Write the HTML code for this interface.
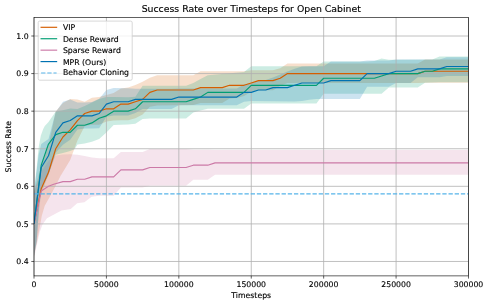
<!DOCTYPE html>
<html><head><meta charset="utf-8"><title>Success Rate over Timesteps for Open Cabinet</title>
<style>
html,body{margin:0;padding:0;background:#fff;}
svg{display:block}
text{font-family:"DejaVu Sans","Liberation Sans",sans-serif;fill:#000;stroke:#000;stroke-width:0.14px;}
</style></head><body>
<svg width="489" height="305" viewBox="0 0 489 305">
<rect width="489" height="305" fill="#fff"/>
<defs><clipPath id="ax"><rect x="34.0" y="17.5" width="434.5" height="258.4"/></clipPath></defs>

<g clip-path="url(#ax)">
<path d="M34.00,192.00 L37.60,179.00 L41.24,166.00 L48.48,146.00 L55.73,111.50 L62.97,103.00 L70.21,99.10 L77.45,99.50 L84.69,101.70 L91.93,97.80 L99.17,97.10 L106.42,95.00 L113.66,93.00 L120.90,88.50 L128.14,87.60 L135.38,85.00 L142.62,81.70 L149.87,77.80 L157.11,75.20 L193.32,75.20 L200.56,71.20 L244.01,71.20 L251.25,70.30 L258.49,70.30 L272.98,70.30 L280.22,68.30 L287.46,63.50 L417.81,63.50 L425.05,59.60 L468.50,59.60 L468.50,82.70 L425.05,82.70 L417.81,82.90 L287.46,82.90 L280.22,86.00 L272.98,90.30 L258.49,90.30 L251.25,91.80 L244.01,96.00 L236.77,98.00 L229.53,98.50 L222.28,103.10 L200.56,103.10 L193.32,105.00 L157.11,105.40 L149.87,106.80 L142.62,114.50 L135.38,118.20 L128.14,120.30 L120.90,120.30 L113.66,120.50 L106.42,121.50 L99.17,124.70 L91.93,124.80 L84.69,126.00 L77.45,140.50 L70.20,160.00 L62.95,172.00 L60.50,176.00 L54.50,188.00 L50.20,196.00 L44.75,205.80 L41.80,215.70 L40.00,226.00 L36.90,242.00 L34.00,256.50Z" fill="#D55E00" fill-opacity="0.2" stroke="none"/>
<path d="M34.00,192.00 L36.85,166.00 L37.80,155.80 L38.85,146.00 L40.80,135.80 L43.10,129.30 L44.75,126.00 L48.50,122.00 L55.73,111.50 L62.97,110.30 L70.21,108.50 L77.45,108.90 L84.69,106.00 L91.93,102.50 L99.17,99.00 L106.42,97.10 L113.66,97.10 L128.14,97.30 L135.38,96.80 L142.62,85.70 L186.07,85.70 L193.32,83.00 L200.56,79.00 L207.80,75.30 L244.01,72.00 L251.25,66.30 L316.43,66.30 L323.67,61.60 L367.12,61.60 L374.36,61.00 L381.60,58.40 L388.84,59.80 L432.29,59.50 L439.53,56.40 L468.50,56.40 L468.50,82.20 L439.53,82.20 L432.29,82.50 L425.05,82.80 L417.81,87.50 L388.84,87.50 L381.60,93.70 L323.67,93.70 L316.43,103.60 L251.25,103.60 L244.01,108.80 L207.80,108.80 L200.56,110.50 L193.32,112.50 L186.07,118.50 L149.87,118.50 L142.62,119.10 L135.38,123.70 L128.14,124.40 L113.66,124.90 L106.42,132.50 L99.17,139.00 L91.93,141.80 L84.69,143.60 L77.45,144.60 L74.55,149.30 L70.21,151.00 L62.97,153.00 L55.73,154.70 L48.48,174.50 L41.24,194.00 L39.60,205.00 L37.90,224.00 L36.60,242.00 L34.00,256.00Z" fill="#009E73" fill-opacity="0.2" stroke="none"/>
<path d="M34.00,192.00 L41.24,172.00 L48.48,161.00 L55.73,155.50 L62.97,154.50 L70.21,154.30 L77.45,154.80 L84.69,156.00 L91.93,157.50 L99.17,158.20 L113.66,158.20 L120.90,152.00 L142.62,152.00 L149.87,149.00 L186.07,149.00 L193.32,149.70 L207.80,149.70 L215.04,149.90 L468.50,149.90 L468.50,174.80 L215.04,174.80 L207.80,179.85 L193.32,179.85 L186.07,185.70 L149.87,185.70 L142.62,187.40 L120.90,187.40 L113.66,195.80 L99.17,195.80 L91.60,196.70 L84.40,202.30 L77.20,203.20 L70.70,209.10 L61.50,210.40 L47.00,218.30 L42.50,224.60 L39.80,231.80 L37.50,242.00 L34.00,258.00Z" fill="#CC79A7" fill-opacity="0.2" stroke="none"/>
<path d="M34.00,192.00 L37.00,168.00 L38.60,155.00 L41.24,144.00 L48.48,139.00 L55.73,112.00 L62.97,101.70 L70.21,99.50 L77.45,102.50 L84.69,102.50 L91.93,102.00 L99.17,98.80 L106.42,89.90 L113.66,87.90 L128.14,88.30 L135.38,88.80 L171.59,88.80 L178.83,88.40 L236.77,88.40 L244.01,84.50 L251.25,83.00 L258.49,81.00 L265.73,80.00 L272.98,77.50 L280.22,74.50 L287.46,71.50 L294.70,68.80 L301.94,66.40 L309.18,66.20 L323.67,66.20 L330.91,61.40 L359.88,61.40 L367.12,60.40 L388.84,60.40 L396.08,59.60 L439.53,59.60 L446.77,57.30 L468.50,57.30 L468.50,76.00 L446.77,76.00 L439.53,77.30 L417.81,77.30 L410.57,83.00 L396.08,83.00 L388.84,86.75 L367.12,86.75 L359.88,99.00 L316.43,99.00 L309.18,99.80 L301.94,100.90 L294.70,101.50 L251.25,100.90 L244.01,101.80 L236.77,105.30 L178.83,105.30 L171.59,109.00 L142.62,109.00 L135.38,113.00 L128.14,115.50 L120.90,115.50 L113.66,115.50 L106.42,116.80 L99.17,128.20 L91.93,128.50 L84.69,128.50 L77.45,129.50 L70.21,139.80 L62.97,144.70 L55.73,152.50 L48.48,175.00 L41.24,189.00 L39.50,202.00 L37.90,224.00 L36.60,242.00 L34.00,256.00Z" fill="#0072B2" fill-opacity="0.2" stroke="none"/>
</g>
<g stroke="#b0b0b0" stroke-width="0.8" stroke-opacity="1" fill="none">
<line x1="34.00" y1="17.5" x2="34.00" y2="275.9"/>
<line x1="106.42" y1="17.5" x2="106.42" y2="275.9"/>
<line x1="178.83" y1="17.5" x2="178.83" y2="275.9"/>
<line x1="251.25" y1="17.5" x2="251.25" y2="275.9"/>
<line x1="323.67" y1="17.5" x2="323.67" y2="275.9"/>
<line x1="396.08" y1="17.5" x2="396.08" y2="275.9"/>
<line x1="468.50" y1="17.5" x2="468.50" y2="275.9"/>
<line x1="34.0" y1="261.48" x2="468.5" y2="261.48"/>
<line x1="34.0" y1="223.90" x2="468.5" y2="223.90"/>
<line x1="34.0" y1="186.32" x2="468.5" y2="186.32"/>
<line x1="34.0" y1="148.74" x2="468.5" y2="148.74"/>
<line x1="34.0" y1="111.16" x2="468.5" y2="111.16"/>
<line x1="34.0" y1="73.58" x2="468.5" y2="73.58"/>
<line x1="34.0" y1="36.00" x2="468.5" y2="36.00"/>
</g>
<g clip-path="url(#ax)">
<path d="M34.00,223.90 L41.24,188.67 L48.48,172.23 L55.73,148.74 L62.97,137.00 L70.21,129.95 L77.45,120.55 L84.69,113.51 L91.93,111.16 L99.17,111.16 L106.42,108.81 L113.66,108.81 L120.90,104.11 L128.14,104.11 L135.38,101.76 L142.62,99.42 L149.87,92.37 L157.11,90.02 L193.32,90.02 L200.56,87.67 L222.28,87.67 L229.53,85.32 L236.77,85.32 L244.01,85.32 L251.25,82.97 L258.49,80.63 L272.98,80.63 L280.22,78.28 L287.46,73.58 L417.81,73.58 L425.05,71.23 L432.29,71.23 L439.53,71.23 L468.50,71.23" fill="none" stroke="#D55E00" stroke-width="1.16" stroke-linejoin="round"/>
<path d="M34.00,223.90 L41.24,165.18 L48.48,144.04 L55.73,134.65 L62.97,132.30 L70.21,132.30 L77.45,125.25 L84.69,125.25 L91.93,122.90 L99.17,118.21 L106.42,115.86 L113.66,111.16 L128.14,111.16 L135.38,108.81 L142.62,101.76 L186.07,101.76 L193.32,99.42 L200.56,97.07 L207.80,92.37 L236.77,92.37 L244.01,92.37 L251.25,85.32 L316.43,85.32 L323.67,78.28 L374.36,78.28 L381.60,75.93 L388.84,73.58 L417.81,73.58 L425.05,71.23 L432.29,71.23 L439.53,68.88 L468.50,68.88" fill="none" stroke="#009E73" stroke-width="1.16" stroke-linejoin="round"/>
<path d="M34.00,223.90 L41.24,191.02 L43.12,189.80 L45.80,188.00 L48.48,186.32 L53.70,184.30 L62.97,181.62 L70.21,181.62 L77.45,179.27 L84.69,179.27 L91.93,176.92 L113.66,176.92 L120.90,169.88 L142.62,169.88 L149.87,167.53 L186.07,167.53 L193.32,165.18 L207.80,165.18 L215.04,162.83 L468.50,162.83" fill="none" stroke="#CC79A7" stroke-width="1.16" stroke-linejoin="round"/>
<path d="M34.00,223.90 L41.24,167.53 L48.48,155.79 L55.73,132.30 L62.97,122.90 L70.21,120.55 L77.45,115.86 L84.69,115.86 L91.93,115.86 L99.17,113.51 L106.42,104.11 L113.66,101.76 L128.14,101.76 L135.38,99.42 L171.59,99.42 L178.83,97.07 L236.77,97.07 L244.01,92.37 L251.25,92.37 L258.49,90.02 L265.73,90.02 L272.98,87.67 L287.46,87.67 L294.70,85.32 L301.94,82.97 L323.67,82.97 L330.91,80.63 L359.88,80.63 L367.12,73.58 L388.84,73.58 L396.08,71.23 L410.57,71.23 L417.81,68.88 L439.53,68.88 L446.77,66.53 L468.50,66.53" fill="none" stroke="#0072B2" stroke-width="1.16" stroke-linejoin="round"/>
<line x1="34.0" y1="193.84" x2="468.5" y2="193.84" stroke="#56B4E9" stroke-width="1.16" stroke-dasharray="4.316 1.866" stroke-dashoffset="-0.3"/>
</g>
<g stroke="#000" stroke-width="0.62">
<line x1="34.00" y1="275.9" x2="34.00" y2="278.59999999999997"/>
<line x1="106.42" y1="275.9" x2="106.42" y2="278.59999999999997"/>
<line x1="178.83" y1="275.9" x2="178.83" y2="278.59999999999997"/>
<line x1="251.25" y1="275.9" x2="251.25" y2="278.59999999999997"/>
<line x1="323.67" y1="275.9" x2="323.67" y2="278.59999999999997"/>
<line x1="396.08" y1="275.9" x2="396.08" y2="278.59999999999997"/>
<line x1="468.50" y1="275.9" x2="468.50" y2="278.59999999999997"/>
<line x1="31.3" y1="261.48" x2="34.0" y2="261.48"/>
<line x1="31.3" y1="223.90" x2="34.0" y2="223.90"/>
<line x1="31.3" y1="186.32" x2="34.0" y2="186.32"/>
<line x1="31.3" y1="148.74" x2="34.0" y2="148.74"/>
<line x1="31.3" y1="111.16" x2="34.0" y2="111.16"/>
<line x1="31.3" y1="73.58" x2="34.0" y2="73.58"/>
<line x1="31.3" y1="36.00" x2="34.0" y2="36.00"/>
</g>
<rect x="34.0" y="17.5" width="434.5" height="258.4" fill="none" stroke="#000" stroke-width="0.62"/>
<text x="34.00" y="286.8" font-size="7.75" text-anchor="middle">0</text>
<text x="106.42" y="286.8" font-size="7.75" text-anchor="middle">50000</text>
<text x="178.83" y="286.8" font-size="7.75" text-anchor="middle">100000</text>
<text x="251.25" y="286.8" font-size="7.75" text-anchor="middle">150000</text>
<text x="323.67" y="286.8" font-size="7.75" text-anchor="middle">200000</text>
<text x="396.08" y="286.8" font-size="7.75" text-anchor="middle">250000</text>
<text x="468.50" y="286.8" font-size="7.75" text-anchor="middle">300000</text>
<text x="28.58" y="264.38" font-size="7.75" text-anchor="end">0.4</text>
<text x="28.58" y="226.80" font-size="7.75" text-anchor="end">0.5</text>
<text x="28.58" y="189.22" font-size="7.75" text-anchor="end">0.6</text>
<text x="28.58" y="151.64" font-size="7.75" text-anchor="end">0.7</text>
<text x="28.58" y="114.06" font-size="7.75" text-anchor="end">0.8</text>
<text x="28.58" y="76.48" font-size="7.75" text-anchor="end">0.9</text>
<text x="28.58" y="38.90" font-size="7.75" text-anchor="end">1.0</text>
<text x="251.25" y="297.6" font-size="7.75" text-anchor="middle">Timesteps</text>
<text transform="translate(11.4 146.70) rotate(-90)" font-size="7.75" text-anchor="middle">Success Rate</text>
<text x="251.25" y="12.3" font-size="9.33" text-anchor="middle">Success Rate over Timesteps for Open Cabinet</text>
<rect x="38.2" y="21.1" width="94.0" height="59.1" rx="1.5" ry="1.5" fill="#fff" fill-opacity="0.8" stroke="#ccc" stroke-opacity="0.9" stroke-width="0.85"/>
<line x1="41.1" y1="27.3" x2="56.6" y2="27.3" stroke="#D55E00" stroke-width="1.16" stroke-linecap="square"/>
<text x="62.9" y="29.90" font-size="7.75">VIP</text>
<line x1="41.1" y1="38.73" x2="56.6" y2="38.73" stroke="#009E73" stroke-width="1.16" stroke-linecap="square"/>
<text x="62.9" y="41.78" font-size="7.75">Dense Reward</text>
<line x1="41.1" y1="50.16" x2="56.6" y2="50.16" stroke="#CC79A7" stroke-width="1.16" stroke-linecap="square"/>
<text x="62.9" y="52.76" font-size="7.75">Sparse Reward</text>
<line x1="41.1" y1="61.6" x2="56.6" y2="61.6" stroke="#0072B2" stroke-width="1.16" stroke-linecap="square"/>
<text x="62.9" y="64.65" font-size="7.75">MPR (Ours)</text>
<line x1="41.1" y1="73.03" x2="56.6" y2="73.03" stroke="#56B4E9" stroke-width="1.16" stroke-dasharray="4.316 1.866"/>
<text x="62.9" y="75.30" font-size="7.75">Behavior Cloning</text>
</svg></body></html>
